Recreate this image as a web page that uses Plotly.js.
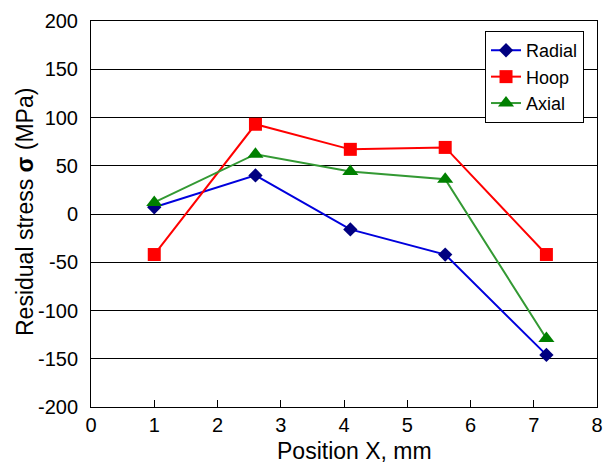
<!DOCTYPE html>
<html>
<head>
<meta charset="utf-8">
<script src="https://cdn.plot.ly/plotly-3.0.1.min.js"></script>
<style>html,body{margin:0;padding:0;background:#fff;}#chart{width:611px;height:466px;}</style>
</head>
<body>
<div id="chart"></div>
<script>
var positions = [1, 2.6, 4.1, 5.6, 7.2];
var radial = [7, 40, -16, -42, -146];
var hoop = [-42, 93, 67, 69, -42];
var axial = [12, 62, 44, 36, -129];
var seriesNames = ['Radial', 'Hoop', 'Axial'];
var xTicks = [0, 1, 2, 3, 4, 5, 6, 7, 8];
var yTicks = [-200, -150, -100, -50, 0, 50, 100, 150, 200];
var xTitle = 'Position X, mm';
var yTitle = 'Residual stress <b>σ</b> (MPa)';

var traces = [
  {x: positions, y: radial, name: seriesNames[0], mode: 'lines+markers', type: 'scatter',
   line: {color: '#0000DD', width: 2},
   marker: {symbol: 'diamond', size: 11, color: '#000080'}},
  {x: positions, y: hoop, name: seriesNames[1], mode: 'lines+markers', type: 'scatter',
   line: {color: '#FF0000', width: 2},
   marker: {symbol: 'square', size: 13, color: '#FF0000'}},
  {x: positions, y: axial, name: seriesNames[2], mode: 'lines+markers', type: 'scatter',
   line: {color: '#339933', width: 2},
   marker: {symbol: 'triangle-up', size: 14, color: '#008000'}}
];

var layout = {
  width: 611, height: 466,
  margin: {l: 91, r: 14, t: 21, b: 59},
  paper_bgcolor: '#fff', plot_bgcolor: '#fff',
  font: {family: 'Liberation Sans, Arial, sans-serif', size: 20, color: '#000'},
  showlegend: true,
  legend: {x: 0.7787, y: 0.974, xanchor: 'left', yanchor: 'top',
    bordercolor: '#000', borderwidth: 1, bgcolor: '#fff',
    font: {size: 18}, tracegroupgap: 0, itemwidth: 30},
  xaxis: {range: [0, 8], tickvals: xTicks, ticktext: xTicks.map(String),
    ticks: 'inside', ticklen: 7, tickcolor: '#000', tickwidth: 1,
    showgrid: false, zeroline: false, showline: true, linecolor: '#000', linewidth: 1, mirror: true,
    tickfont: {size: 20},
    fixedrange: true},
  yaxis: {range: [-200, 200], tickvals: yTicks, ticktext: yTicks.map(String),
    ticks: '', showgrid: true, gridcolor: '#000', gridwidth: 1,
    zeroline: false, showline: true, linecolor: '#000', linewidth: 1, mirror: true,
    tickfont: {size: 20}, ticklabelstandoff: 8,
    fixedrange: true},
  annotations: [
    {text: xTitle, xref: 'paper', yref: 'paper', x: (354 - 91) / 506, y: (407 - 451) / 386,
     xanchor: 'center', yanchor: 'middle', showarrow: false, font: {size: 23}},
    {text: yTitle, xref: 'paper', yref: 'paper', x: (25 - 91) / 506, y: (407 - 212) / 386,
     xanchor: 'center', yanchor: 'middle', showarrow: false, textangle: -90, font: {size: 23}}
  ]
};

Plotly.newPlot('chart', traces, layout, {displayModeBar: false, staticPlot: true});
</script>
</body>
</html>
